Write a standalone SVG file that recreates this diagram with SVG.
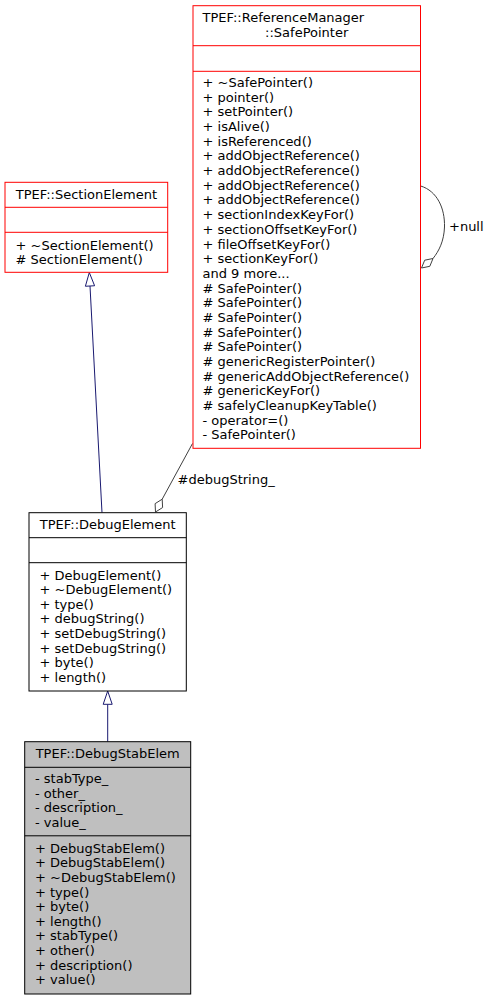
<svg xmlns="http://www.w3.org/2000/svg" width="490" height="1000" viewBox="0 0 490 1000">
<style>
text{font-family:"DejaVu Sans","Liberation Sans",sans-serif;font-size:13px;fill:#000}
.mid{text-anchor:middle}
.red{fill:#fff;stroke:#ff0000;stroke-width:1}
.redl{stroke:#ff0000;stroke-width:1}
.blk{fill:#fff;stroke:#000;stroke-width:1}
.gray{fill:#bfbfbf;stroke:#000;stroke-width:1}
.blkl{stroke:#000;stroke-width:1}
.inh{fill:none;stroke:#191970;stroke-width:1}
.inhh{fill:#fff;stroke:#191970;stroke-width:1}
.agg{fill:none;stroke:#404040;stroke-width:1}
.aggh{fill:#fff;stroke:#404040;stroke-width:1}
</style>
<rect width="490" height="1000" fill="#fff"/>
<g id="connectors">
<path class="inh" d="M102,512.7 L90,286"/>
<polygon class="inhh" points="89.3,272.5 94.6,285.75 85.4,286.25"/>
<path class="inh" d="M107.7,741.7 L107.7,704.3"/>
<polygon class="inhh" points="107.7,691 112.2,704.3 103.2,704.3"/>
<path class="agg" d="M192.5,443.5 L162.2,499.2"/>
<polygon class="aggh" points="155.5,512 155.1,503.65 162.2,499.2 162.6,507.55"/>
<text x="177.5" y="484.3">#debugString_</text>
<path class="agg" d="M420.7,186 C437,191 445,208 444.5,227 C444,241 439,251 433,258.5"/>
<polygon class="aggh" points="421.5,268 424.7,260.2 433,258.5 429.8,266.3"/>
<text x="449" y="230.7">+null</text>
</g>
<g id="SafePointer">
<rect class="red" x="193" y="5.7" width="227.5" height="442.6"/>
<line class="redl" x1="193" y1="45.7" x2="420.5" y2="45.7"/>
<line class="redl" x1="193" y1="71.3" x2="420.5" y2="71.3"/>
<text x="202.5" y="22">TPEF::ReferenceManager</text>
<text class="mid" x="306.7" y="37">::SafePointer</text>
<text x="202.5" y="87">+ ~SafePointer()</text>
<text x="202.5" y="101.7">+ pointer()</text>
<text x="202.5" y="116.4">+ setPointer()</text>
<text x="202.5" y="131">+ isAlive()</text>
<text x="202.5" y="145.7">+ isReferenced()</text>
<text x="202.5" y="160.4">+ addObjectReference()</text>
<text x="202.5" y="175.1">+ addObjectReference()</text>
<text x="202.5" y="189.8">+ addObjectReference()</text>
<text x="202.5" y="204.4">+ addObjectReference()</text>
<text x="202.5" y="219.1">+ sectionIndexKeyFor()</text>
<text x="202.5" y="233.8">+ sectionOffsetKeyFor()</text>
<text x="202.5" y="248.5">+ fileOffsetKeyFor()</text>
<text x="202.5" y="263.2">+ sectionKeyFor()</text>
<text x="202.5" y="277.8">and 9 more...</text>
<text x="202.5" y="292.5"># SafePointer()</text>
<text x="202.5" y="307.2"># SafePointer()</text>
<text x="202.5" y="321.9"># SafePointer()</text>
<text x="202.5" y="336.6"># SafePointer()</text>
<text x="202.5" y="351.2"># SafePointer()</text>
<text x="202.5" y="365.9"># genericRegisterPointer()</text>
<text x="202.5" y="380.6"># genericAddObjectReference()</text>
<text x="202.5" y="395.3"># genericKeyFor()</text>
<text x="202.5" y="410"># safelyCleanupKeyTable()</text>
<text x="202.5" y="424.6">- operator=()</text>
<text x="202.5" y="439.3">- SafePointer()</text>
</g>
<g id="SectionElement">
<rect class="red" x="5" y="182.3" width="162.7" height="90"/>
<line class="redl" x1="5" y1="207.3" x2="167.7" y2="207.3"/>
<line class="redl" x1="5" y1="232.3" x2="167.7" y2="232.3"/>
<text class="mid" x="86.4" y="198.5">TPEF::SectionElement</text>
<text x="15.5" y="249.5">+ ~SectionElement()</text>
<text x="15.5" y="264.1"># SectionElement()</text>
</g>
<g id="DebugElement">
<rect class="blk" x="29" y="512.7" width="157.3" height="178.3"/>
<line class="blkl" x1="29" y1="537.7" x2="186.3" y2="537.7"/>
<line class="blkl" x1="29" y1="562.7" x2="186.3" y2="562.7"/>
<text class="mid" x="107.7" y="529">TPEF::DebugElement</text>
<text x="39.5" y="579.5">+ DebugElement()</text>
<text x="39.5" y="594.1">+ ~DebugElement()</text>
<text x="39.5" y="608.7">+ type()</text>
<text x="39.5" y="623.3">+ debugString()</text>
<text x="39.5" y="637.9">+ setDebugString()</text>
<text x="39.5" y="652.5">+ setDebugString()</text>
<text x="39.5" y="667.1">+ byte()</text>
<text x="39.5" y="681.7">+ length()</text>
</g>
<g id="DebugStabElem">
<rect class="gray" x="24.7" y="741.7" width="166" height="252.3"/>
<line class="blkl" x1="24.7" y1="767.3" x2="190.7" y2="767.3"/>
<line class="blkl" x1="24.7" y1="835.8" x2="190.7" y2="835.8"/>
<text class="mid" x="107.7" y="758">TPEF::DebugStabElem</text>
<text x="35" y="783">- stabType_</text>
<text x="35" y="797.6">- other_</text>
<text x="35" y="812.2">- description_</text>
<text x="35" y="826.8">- value_</text>
<text x="35" y="852.8">+ DebugStabElem()</text>
<text x="35" y="867.4">+ DebugStabElem()</text>
<text x="35" y="882">+ ~DebugStabElem()</text>
<text x="35" y="896.6">+ type()</text>
<text x="35" y="911.2">+ byte()</text>
<text x="35" y="925.8">+ length()</text>
<text x="35" y="940.4">+ stabType()</text>
<text x="35" y="955">+ other()</text>
<text x="35" y="969.6">+ description()</text>
<text x="35" y="984.2">+ value()</text>
</g>
</svg>
